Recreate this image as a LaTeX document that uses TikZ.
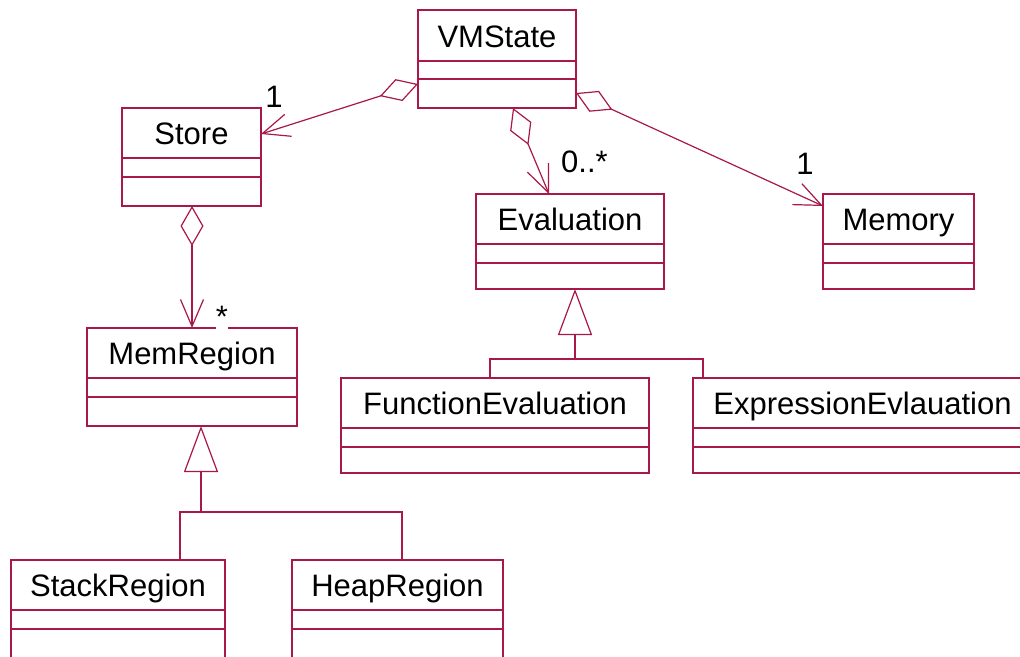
\documentclass[tikz,border=0pt]{standalone}
\usepackage{fontspec}
\setmainfont{Liberation Sans}
\usetikzlibrary{arrows.meta,fit}
\definecolor{umlred}{HTML}{A8184A}
\newcommand\umlcls[8]{% name, left, top, right, bottom, div1, div2, text
  \node[cls, fit={(#2,#3) (#4,#5)}] (#1) {};
  \draw[line] (#2,#6) -- (#4,#6) (#2,#7) -- (#4,#7);
  \node[title] (#1-t) at ({(#2+#4)/2},{(#3+#6)/2+11.5}) {#8};
}
\begin{document}
\begin{tikzpicture}[x=1pt,y=-1pt,
  line/.style={draw=umlred,line width=1.2pt},
  cls/.style={line, inner sep=0pt, outer sep=0pt},
  title/.style={anchor=base, font=\fontsize{31}{36}\selectfont, inner sep=0pt},
  mult/.style={anchor=base, font=\fontsize{31}{36}\selectfont, inner sep=0pt},
  assoc/.style={line, {Diamond[open,length=40pt,width=23pt]}-{Straight Barb[length=27pt,width=23pt]}},
  gen/.style={line, -{Triangle[open,length=46pt,width=34pt]}}]
\fill[white] (0,0) rectangle (1020,656);
\useasboundingbox (0,0) rectangle (1020,656);

\umlcls{vm}{418}{10}{576}{108}{61}{79}{VMState}
\umlcls{store}{122}{108}{261}{206}{158}{177}{Store}
\umlcls{eval}{476}{194}{664}{289}{244}{263}{Evaluation}
\umlcls{mem}{823}{194}{974}{289}{244}{263}{Memory}
\umlcls{memreg}{87}{328}{297}{426}{378}{397}{MemRegion}
\umlcls{func}{341}{378}{649}{473}{428}{447}{FunctionEvaluation}
\umlcls{expr}{693}{378}{1032}{473}{428}{447}{ExpressionEvlauation}
\umlcls{stack}{11}{560}{225}{662}{610}{629}{StackRegion}
\umlcls{heap}{292}{560}{503}{662}{610}{629}{HeapRegion}

% aggregations
\draw[assoc] ([yshift=-25pt]vm.west) -- ([yshift=23pt]store.east);
\draw[assoc] ([xshift=16pt]vm.south) -- ([xshift=-21pt]eval.north);
\draw[assoc] ([yshift=-34pt]vm.east) -- ([yshift=35.5pt]mem.west);
\draw[assoc] ([xshift=0.5pt]store.south) -- (memreg.north);

% generalizations
\coordinate (j1) at (575,359);
\draw[gen] (j1) -- (eval.south -| j1);
\draw[line] ([xshift=-5pt]func.north) |- (j1) -| ([xshift=-159.5pt]expr.north);
\coordinate (j2) at (201,512);
\draw[gen] (j2) -- (memreg.south -| j2);
\draw[line] ([xshift=62pt]stack.north) |- (j2) -| ([xshift=4.5pt]heap.north);

% multiplicities
\node[mult] (m1) at (274,107) {1};
\node[mult, anchor=base west] (m2) at (561,172) {0..*};
\node[mult] (m3) at (805,174) {1};
\node[mult, fill=white, text depth=4pt] (m4) at (222,327) {*};
\end{tikzpicture}
\end{document}
